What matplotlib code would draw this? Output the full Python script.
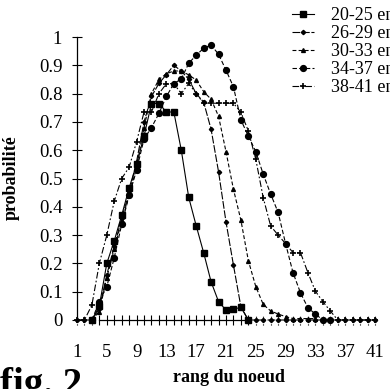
import numpy as np
import matplotlib
matplotlib.use('Agg')
import matplotlib.pyplot as plt

plt.rcParams['font.family'] = ['Liberation Serif', 'DejaVu Serif']

## data - rank of node 1..41
ranks = np.arange(1, 42)
labels = ['20-25 entrenoeuds', '26-29 entrenoeuds', '30-33 entrenoeuds',
          '34-37 entrenoeuds', '38-41 entrenoeuds']

# each series: first rank, then probabilities
s2025_start = 3
s2025 = [0, 0.05, 0.20, 0.28, 0.37, 0.467, 0.55, 0.65, 0.765, 0.765, 0.735,
         0.735, 0.60, 0.433, 0.333, 0.238, 0.135, 0.065, 0.035, 0.038, 0.045, 0]

s2629_start = 1
s2629 = [0, 0, 0, 0.04, 0.16, 0.26, 0.36, 0.45, 0.56, 0.70, 0.79, 0.836, 0.867,
         0.90, 0.88, 0.85, 0.80, 0.77, 0.674, 0.524, 0.347, 0.194, 0.047,
         0, 0, 0, 0, 0, 0, 0, 0, 0, 0, 0, 0, 0, 0, 0, 0, 0, 0]

s3033_start = 3
s3033 = [0, 0.03, 0.15, 0.25, 0.35, 0.44, 0.54, 0.68, 0.80, 0.85, 0.87, 0.88,
         0.88, 0.866, 0.848, 0.807, 0.78, 0.72, 0.595, 0.462, 0.353, 0.21,
         0.118, 0.055, 0.032, 0.021, 0.012, 0.005, 0.005, 0.005, 0.005]

s3437_start = 3
s3437 = [0, 0.065, 0.118, 0.22, 0.338, 0.44, 0.53, 0.64, 0.68, 0.73, 0.79,
         0.835, 0.852, 0.907, 0.936, 0.96, 0.972, 0.939, 0.883, 0.824, 0.707,
         0.65, 0.595, 0.515, 0.445, 0.38, 0.27, 0.167, 0.096, 0.043, 0.021, 0, 0]

s3841_start = 1
s3841 = [0, 0, 0.053, 0.20, 0.30, 0.42, 0.50, 0.54, 0.63, 0.735, 0.735, 0.80,
         0.835, 0.835, 0.80, 0.836, 0.80, 0.766, 0.766, 0.766, 0.766, 0.766,
         0.734, 0.668, 0.568, 0.432, 0.332, 0.30, 0.27, 0.238, 0.238, 0.167,
         0.102, 0.065, 0.032, 0, 0, 0, 0, 0, 0]

yticks = np.round(np.arange(0, 1.01, 0.1), 1)
ytick_labels = ['0', '0.1', '0.2', '0.3', '0.4', '0.5', '0.6', '0.7', '0.8', '0.9', '1']
xticks = np.arange(1, 42, 4)


def pad(start, vals):
    out = np.full(len(ranks), np.nan)
    out[start - 1:start - 1 + len(vals)] = vals
    return out


styles = [
    dict(marker='s', ms=4.2, ls='-'),
    dict(marker='D', ms=2.2, ls=(0, (7, 1.5))),
    dict(marker='^', ms=2.8, ls=(0, (3.5, 2))),
    dict(marker='o', ms=4.2, ls=(0, (4, 2))),
    dict(marker='+', ms=5, mew=1.2, ls=(0, (6, 2, 1.5, 2))),
]
series = [(s2025_start, s2025), (s2629_start, s2629), (s3033_start, s3033),
          (s3437_start, s3437), (s3841_start, s3841)]

fig = plt.figure(figsize=(3.9, 3.89), dpi=100)
ax = fig.add_axes([77 / 390, 1 - 320 / 389, (378.7 - 77) / 390, 283 / 389])

for (start, vals), st, lab in zip(series, styles, labels):
    ax.plot(ranks, pad(start, vals), color='black', lw=0.8, label=lab,
            clip_on=False, **st)

ax.set_xlim(1, 41.5)
ax.set_ylim(0, 1)

##__axes
for side in ['top', 'right']:
    ax.spines[side].set_visible(False)
ax.spines['left'].set_linewidth(0.9)
ax.spines['bottom'].set_linewidth(0.9)
ax.spines['bottom'].set_bounds(4, 24)

ax.set_yticks(yticks)
ax.set_yticklabels(ytick_labels)
ax.tick_params(axis='y', direction='inout', length=7.2, width=0.8, pad=7, labelsize=13.5)

ax.set_xticks(xticks)
ax.tick_params(axis='x', length=0, pad=17, labelsize=13.5)

# cross tick marks on the category axis (solid where the axis line is drawn)
solid = (ranks >= 4) & (ranks <= 24)
ax.vlines(ranks[solid], -0.016, 0.016, color='black', lw=0.8, clip_on=False)
ax.vlines(ranks[~solid], -0.016, 0.016, color='black', lw=0.8,
          linestyles=(0, (1, 1.3)), clip_on=False)

ax.set_ylabel('probabilité', fontsize=13, fontweight='bold')
ax.yaxis.set_label_coords(-57 / 301.7, (320 - 178) / 283)
ax.set_xlabel('rang du noeud', fontsize=13, fontweight='bold')
ax.xaxis.set_label_coords((229 - 77) / 301.7, -(377 - 320) / 283)
ax.xaxis.label.set_va('center')

ax.legend(loc='upper left', bbox_to_anchor=(292 / 390, 1 - 7 / 389),
          bbox_transform=fig.transFigure, frameon=False, fontsize=13,
          handlelength=1.2, handletextpad=0.95, labelspacing=0.06,
          borderaxespad=0, borderpad=0)

fig.text(0.0, -6 / 389, 'fig. 2', fontsize=28, fontweight='bold', va='baseline')

plt.savefig('out.png', dpi=100)
